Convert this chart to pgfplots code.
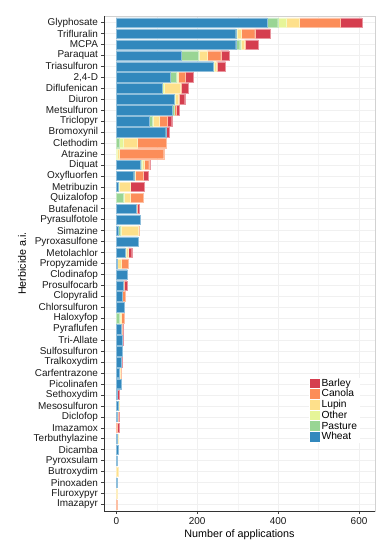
\documentclass[border=0pt]{standalone}
\usepackage{pgfplots}
\pgfplotsset{compat=1.18}
\usepackage{pgfplotstable}
\usepackage{fontspec}
\setmainfont{Liberation Sans}
\definecolor{cBarley}{HTML}{D53E4F}
\definecolor{cCanola}{HTML}{FC8D59}
\definecolor{cLupin}{HTML}{FEE08B}
\definecolor{cOther}{HTML}{E6F598}
\definecolor{cPasture}{HTML}{99D594}
\definecolor{cWheat}{HTML}{3288BD}
\definecolor{gridc}{HTML}{F0F0F0}
\pgfplotstableread{
idx Wheat Pasture Other Lupin Canola Barley
0 372 27 22 32 100 54
1 295 0 3 10 34 39
2 295 10 3 8 3 32
3 160 42 3 20 33 20
4 240 0 2 5 3 20
5 134 14 3 2 17 20
6 114 0 5 40 2 16
7 143 0 3 6 4 13
8 139 3 0 0 5 8
9 81 7 3 14 20 12
10 122 2 0 0 0 6
11 0 7 9 35 73 0
12 0 0 2 4 111 0
13 58 3 2 5 12 3
14 43 0 1 3 19 12
15 5 0 2 28 0 34
16 0 18 2 15 31 0
17 50 0 0 0 2 5
18 58 0 0 0 0 0
19 4 6 2 42 2 0
20 53 0 0 0 0 0
21 22 0 2 4 0 10
22 2 0 0 11 17 0
23 27 0 0 0 0 0
24 18 0 0 0 2 6
25 15 0 0 0 8 0
26 20 0 0 0 0 0
27 0 7 2 3 7 0
28 12 0 0 0 3 1
29 14 0 0 0 0 3
30 15 0 0 0 0 0
31 12 0 0 0 0 2
32 7 0 0 2 3 0
33 12 0 0 0 0 0
34 3 0 0 0 0 4
35 4 0 0 3 0 0
36 3 0 0 0 1 4
37 0 0 0 0 3 4
38 2 0 0 2 0 0
39 4 0 0 0 0 0
40 3 0 0 0 0 0
41 0 0 0 4 0 0
42 2 0 0 0 0 0
43 0 0 0 2 0 0
44 0 0 0 0 2 0
}\data
\begin{document}
\begin{tikzpicture}
\useasboundingbox (-104bp,-32bp) rectangle (288bp,511bp);
\begin{axis}[
  scale only axis, width=271bp, height=495bp,
  xbar stacked, bar width=0.86,
  xmin=-30.5, xmax=639.5, ymin=-0.6, ymax=44.6, y dir=reverse,
  ytick={0,...,44},
  yticklabels={Glyphosate,Trifluralin,MCPA,Paraquat,Triasulfuron,{2,4-D},Diflufenican,Diuron,Metsulfuron,Triclopyr,Bromoxynil,Clethodim,Atrazine,Diquat,Oxyfluorfen,Metribuzin,Quizalofop,Butafenacil,Pyrasulfotole,Simazine,Pyroxasulfone,Metolachlor,Propyzamide,Clodinafop,Prosulfocarb,Clopyralid,Chlorsulfuron,Haloxyfop,Pyraflufen,Tri-Allate,Sulfosulfuron,Tralkoxydim,Carfentrazone,Picolinafen,Sethoxydim,Mesosulfuron,Diclofop,Imazamox,Terbuthylazine,Dicamba,Pyroxsulam,Butroxydim,Pinoxaden,Fluroxypyr,Imazapyr},
  xtick={0,200,400,600}, minor xtick={100,300,500},
  xmajorgrids, xminorgrids, ymajorgrids,
  major grid style={gridc, line width=0.5pt},
  minor grid style={gridc!70!white, line width=0.3pt},
  axis line style={black!18, line width=0.5pt},
  xtick pos=bottom, ytick pos=left, tick align=outside,
  major tick length=3bp, minor tick length=0pt,
  tick style={black!75, line width=0.5pt},
  /pgf/number format/assume math mode=true,
  ticklabel style={font=\fontsize{10}{12}\selectfont, text=black!90},
  yticklabel style={xshift=0.5bp},
  xticklabel style={yshift=-0.5bp},
  xlabel={Number of applications},
  ylabel={Herbicide a.i.},
  label style={font=\fontsize{10.8}{13}\selectfont},
  xlabel style={at={(axis description cs:0.5,-0.0485)}, anchor=center},
  ylabel style={at={(axis description cs:-0.3026,0.5)}, anchor=center},
  reverse legend,
  legend style={at={(axis description cs:0.755,0.27)}, anchor=north west,
    draw=none, fill=white, font=\fontsize{10.3}{12}\selectfont,
    row sep=0.9bp, inner sep=1bp,
    nodes={inner ysep=0pt, text height=7.6bp, text depth=2.1bp}},
  legend cell align=left,
  legend image code/.code={\fill[#1,draw=none] (0bp,-4.9bp) rectangle (9.8bp,4.9bp);},
  after end axis/.code={
    \draw[black!80, line width=0.6pt] (rel axis cs:0,1) -- (rel axis cs:0,0) -- (rel axis cs:1,0);
  },
]
\addplot[fill=cWheat, draw=cWheat!55!white, line width=0.3pt] table[x=Wheat, y=idx] {\data};
\addlegendentry{Wheat}
\addplot[fill=cPasture, draw=cPasture!55!white, line width=0.3pt] table[x=Pasture, y=idx] {\data};
\addlegendentry{Pasture}
\addplot[fill=cOther, draw=cOther!55!white, line width=0.3pt] table[x=Other, y=idx] {\data};
\addlegendentry{Other}
\addplot[fill=cLupin, draw=cLupin!55!white, line width=0.3pt] table[x=Lupin, y=idx] {\data};
\addlegendentry{Lupin}
\addplot[fill=cCanola, draw=cCanola!55!white, line width=0.3pt] table[x=Canola, y=idx] {\data};
\addlegendentry{Canola}
\addplot[fill=cBarley, draw=cBarley!55!white, line width=0.3pt] table[x=Barley, y=idx] {\data};
\addlegendentry{Barley}
\end{axis}
\end{tikzpicture}
\end{document}
